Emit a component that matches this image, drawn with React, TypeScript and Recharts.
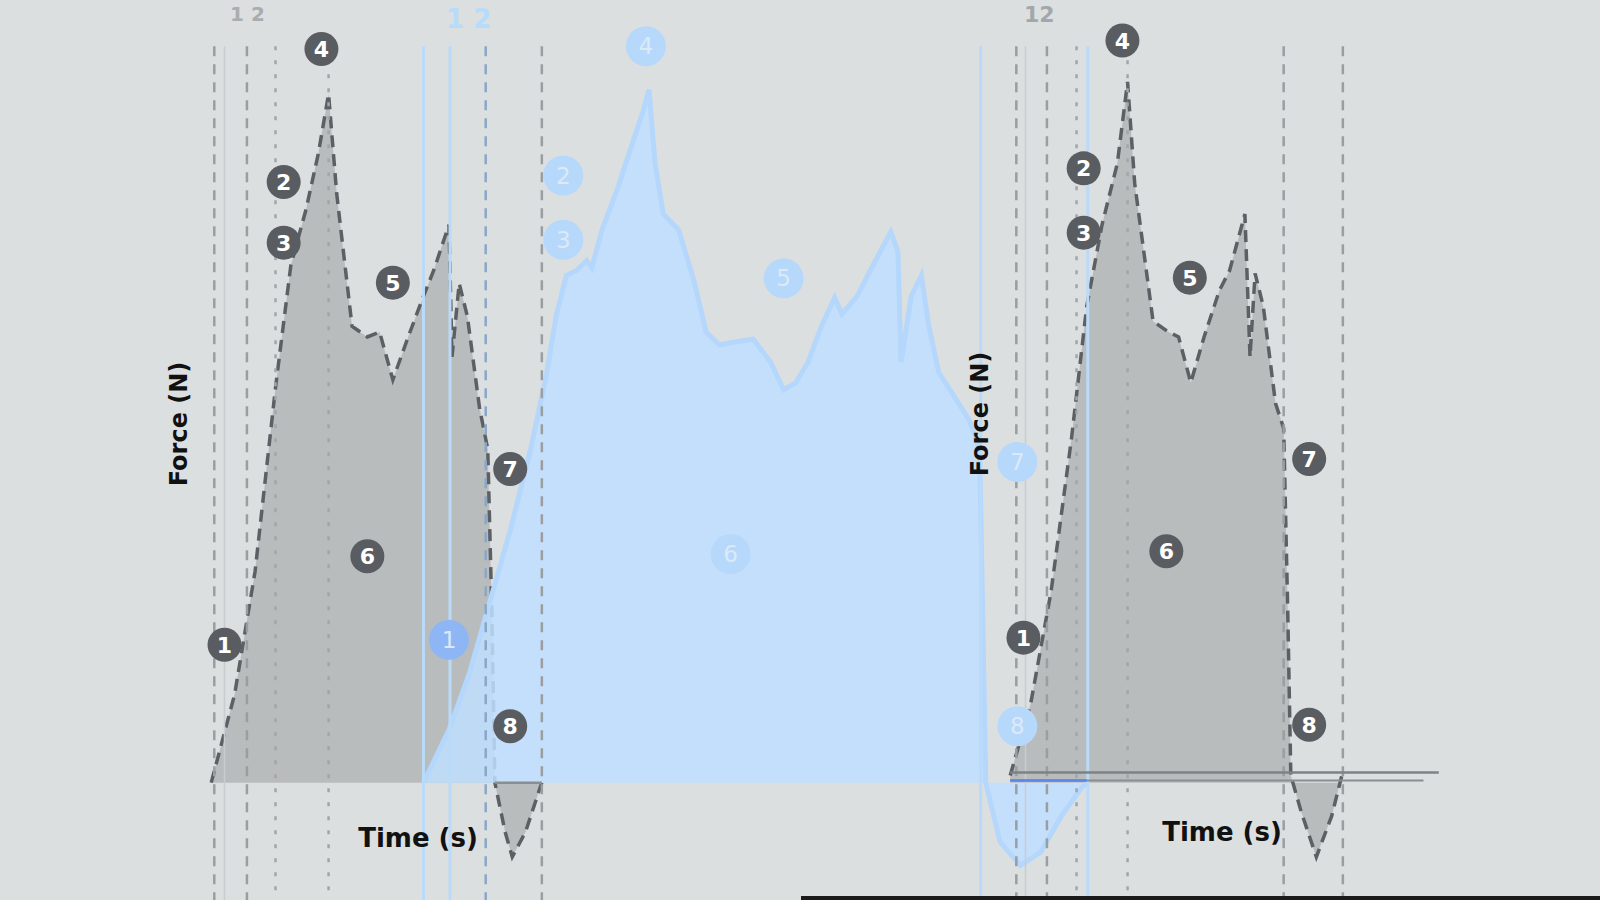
import React from 'react'
import {
  ComposedChart,
  Area,
  Scatter,
  XAxis,
  YAxis,
  ReferenceLine,
} from 'recharts'

// time (s) and force values for each trace
const greyLeftT = [2.07, 2.3, 2.5, 2.7, 2.85, 3.0, 3.12, 3.22, 3.3, 3.45, 3.6, 3.72, 3.85, 4.0, 4.15, 4.25, 4.4, 4.43, 4.5, 4.58, 4.7, 4.78, 4.82, 4.85, 4.95, 5.02, 5.15, 5.3, 5.31]
const greyLeftF = [0, 12.4, 29.6, 55.3, 72.4, 80.3, 88.1, 96.4, 82.4, 63.9, 62.4, 63.1, 56.4, 62.4, 68.1, 71.7, 78.1, 59.6, 69.9, 65.3, 52.4, 46.7, 23.9, 0, -6.9, -10.4, -6.9, -0.4, 0]

const greyRightT = [9.9, 10.1, 10.3, 10.5, 10.65, 10.8, 10.95, 11.05, 11.12, 11.3, 11.45, 11.55, 11.67, 11.8, 11.95, 12.05, 12.2, 12.25, 12.3, 12.38, 12.5, 12.58, 12.62, 12.65, 12.75, 12.9, 13.05, 13.15]
const greyRightF = [1.0, 11.0, 26.7, 48.1, 66.7, 78.1, 86.7, 98.1, 83.9, 64.6, 63.1, 62.4, 56.0, 62.4, 68.9, 71.7, 79.6, 59.6, 71.3, 66.7, 53.1, 49.6, 23.9, 1.0, -4.0, -10.4, -4.7, 1.0]

const blueT = [4.15, 4.4, 4.6, 4.8, 5.0, 5.2, 5.35, 5.45, 5.55, 5.65, 5.75, 5.8, 5.9, 6.05, 6.2, 6.3, 6.36, 6.42, 6.5, 6.65, 6.8, 6.92, 7.05, 7.2, 7.38, 7.55, 7.68, 7.8, 7.92, 8.05, 8.18, 8.25, 8.4, 8.58, 8.73, 8.8, 8.83, 8.93, 9.03, 9.1, 9.2, 9.35, 9.5, 9.6, 9.63, 9.66, 9.8, 10.0, 10.2, 10.4, 10.6, 10.66]
const blueF = [0, 7.4, 15.3, 25.3, 35.3, 46.7, 56.7, 65.3, 71.0, 71.7, 73.1, 72.1, 77.4, 83.1, 89.6, 93.9, 97.0, 86.7, 79.6, 77.4, 70.3, 63.1, 61.3, 61.7, 62.1, 58.9, 55.0, 56.0, 58.9, 63.9, 67.9, 65.6, 68.1, 73.1, 77.1, 74.3, 58.9, 68.1, 71.0, 64.1, 57.4, 54.1, 50.7, 46.7, 23.9, 0, -8.3, -11.6, -9.7, -4.7, -0.7, 0]

// phase markers 1..8
const markerLabels = ['1', '2', '3', '4', '5', '6', '7', '8']
const greyLeftMarkT = [2.2, 2.78, 2.78, 3.15, 3.85, 3.6, 5.0, 5.0]
const greyLeftMarkF = [19.3, 84.1, 75.6, 102.7, 70.0, 31.7, 43.9, 7.9]
const greyRightMarkT = [10.03, 10.62, 10.62, 11.0, 11.66, 11.43, 12.83, 12.83]
const greyRightMarkF = [20.3, 86.0, 77.0, 103.9, 70.7, 32.4, 45.3, 8.1]
const blueMarkT = [4.4, 5.52, 5.52, 6.33, 7.68, 7.16, 9.97, 9.97]
const blueMarkF = [20.0, 85.0, 76.0, 103.1, 70.6, 32.0, 44.9, 7.9]

// phase boundaries
const dashedLines = [2.1, 2.42, 5.31, 9.96, 10.26, 12.58, 13.16]
const dottedLines = [2.7, 3.22, 10.55, 11.05]
const blueLines = [4.15, 4.41, 9.61, 10.66]
const blueDashed = [4.76]
const faintLines = [2.2, 10.05]

const T_MAX = 15.68
const F_MIN = -16.43
const F_MAX = 109.57
const LINE_TOP = 103.1

function buildTable() {
  const rows: Record<number, any> = {}
  const put = (ts: number[], fs: number[], key: string) => {
    ts.forEach((t, i) => {
      rows[t] = rows[t] || { t }
      rows[t][key] = fs[i]
    })
  }
  put(greyLeftT, greyLeftF, 'greyL')
  put(greyRightT, greyRightF, 'greyR')
  put(blueT, blueF, 'blue')
  return Object.values(rows).sort((a, b) => a.t - b.t)
}

const toMarks = (ts: number[], fs: number[]) =>
  ts.map((t, i) => ({ t, f: fs[i], n: markerLabels[i] }))

const greyMarker = (props: any) => (
  <g>
    <circle cx={props.cx} cy={props.cy} r={17} fill="#595d61" />
    <text x={props.cx} y={props.cy + 8} textAnchor="middle" fill="#ffffff" fontSize={22} fontWeight="bold" fontFamily="DejaVu Sans">
      {props.payload.n}
    </text>
  </g>
)

const blueMarker = (props: any) => (
  <g>
    <circle cx={props.cx} cy={props.cy} r={20} fill={props.payload.n === '1' ? '#8fb6f4' : '#b6d8fb'} />
    <text x={props.cx} y={props.cy + 8} textAnchor="middle" fill="#dce9f7" fontSize={23} fontFamily="DejaVu Sans">
      {props.payload.n}
    </text>
  </g>
)

const vLine = (x: number, stroke: string, dash: string | undefined, width: number, key: string) => (
  <ReferenceLine
    key={key}
    segment={[{ x, y: LINE_TOP }, { x, y: F_MIN }]}
    stroke={stroke}
    strokeDasharray={dash}
    strokeWidth={width}
    ifOverflow="visible"
  />
)

const textBase: React.CSSProperties = {
  position: 'absolute',
  fontFamily: 'DejaVu Sans',
  fontWeight: 'bold',
  whiteSpace: 'nowrap',
}

export default function App() {
  const data = buildTable()
  return (
    <div style={{ position: 'fixed', left: 0, top: 0, width: 1600, height: 900, background: '#dcdfe0', overflow: 'hidden' }}>
      <ComposedChart width={1600} height={900} data={data} margin={{ top: 0, right: 0, bottom: 0, left: 0 }}>
        <XAxis type="number" dataKey="t" domain={[0, T_MAX]} hide allowDataOverflow />
        <YAxis type="number" domain={[F_MIN, F_MAX]} hide allowDataOverflow />
        {faintLines.map((x, i) => vLine(x, '#c9cdcf', undefined, 1.5, 'f' + i))}
        {dashedLines.map((x, i) => vLine(x, '#9a9ea1', '10 8', 2.5, 'd' + i))}
        {dottedLines.map((x, i) => vLine(x, '#a2a6a9', '4 10', 2.5, 'o' + i))}
        <Area
          dataKey="greyL"
          type="linear"
          connectNulls
          baseValue={0}
          fill="#b9bcbd"
          fillOpacity={1}
          stroke="#5c6064"
          strokeWidth={3.5}
          strokeDasharray="12 7"
          dot={false}
          activeDot={false}
          isAnimationActive={false}
        />
        <Area
          dataKey="greyR"
          type="linear"
          connectNulls
          baseValue={0}
          fill="#b9bcbd"
          fillOpacity={1}
          stroke="#5c6064"
          strokeWidth={3.5}
          strokeDasharray="12 7"
          dot={false}
          activeDot={false}
          isAnimationActive={false}
        />
        <Area
          dataKey="blue"
          type="linear"
          connectNulls
          baseValue={0}
          fill="#bfdfff"
          fillOpacity={0.85}
          stroke="#b4d7fb"
          strokeWidth={5}
          dot={false}
          activeDot={false}
          isAnimationActive={false}
        />
        {blueLines.map((x, i) => vLine(x, '#b9dbf9', undefined, 3, 'b' + i))}
        {blueDashed.map((x, i) => vLine(x, '#8aa6c8', '10 8', 2.5, 'bd' + i))}
        <ReferenceLine segment={[{ x: 9.9, y: 1.43 }, { x: 14.1, y: 1.43 }]} stroke="#7e8285" strokeWidth={2.5} ifOverflow="visible" />
        <ReferenceLine segment={[{ x: 9.9, y: 0.29 }, { x: 13.95, y: 0.29 }]} stroke="#8a8e91" strokeWidth={2} ifOverflow="visible" />
        <ReferenceLine segment={[{ x: 9.9, y: 0.29 }, { x: 10.65, y: 0.29 }]} stroke="#5b86ee" strokeWidth={2.5} ifOverflow="visible" />
        <ReferenceLine segment={[{ x: 4.85, y: 0 }, { x: 5.31, y: 0 }]} stroke="#8a8e91" strokeWidth={2.5} ifOverflow="visible" />
        <Scatter data={toMarks(greyLeftMarkT, greyLeftMarkF)} dataKey="f" shape={greyMarker} isAnimationActive={false} />
        <Scatter data={toMarks(greyRightMarkT, greyRightMarkF)} dataKey="f" shape={greyMarker} isAnimationActive={false} />
        <Scatter data={toMarks(blueMarkT, blueMarkF)} dataKey="f" shape={blueMarker} isAnimationActive={false} />
      </ComposedChart>

      <div style={{ ...textBase, left: 230, top: 2, fontSize: 20, color: '#a9adb0' }}>1 2</div>
      <div style={{ ...textBase, left: 446, top: 4, fontSize: 26, color: '#b6dcfb' }}>1 2</div>
      <div style={{ ...textBase, left: 1024, top: 2, fontSize: 22, color: '#a3a7aa' }}>12</div>

      <div style={{ ...textBase, left: 179, top: 424, fontSize: 24, color: '#111', transform: 'translate(-50%, -50%) rotate(-90deg)' }}>Force (N)</div>
      <div style={{ ...textBase, left: 980, top: 414, fontSize: 24, color: '#111', transform: 'translate(-50%, -50%) rotate(-90deg)' }}>Force (N)</div>
      <div style={{ ...textBase, left: 418, top: 838, fontSize: 26, color: '#111', transform: 'translate(-50%, -50%)' }}>Time (s)</div>
      <div style={{ ...textBase, left: 1222, top: 832, fontSize: 26, color: '#111', transform: 'translate(-50%, -50%)' }}>Time (s)</div>

      <div style={{ position: 'absolute', left: 801, top: 896, width: 799, height: 4, background: '#1b1b1b' }} />
    </div>
  )
}
